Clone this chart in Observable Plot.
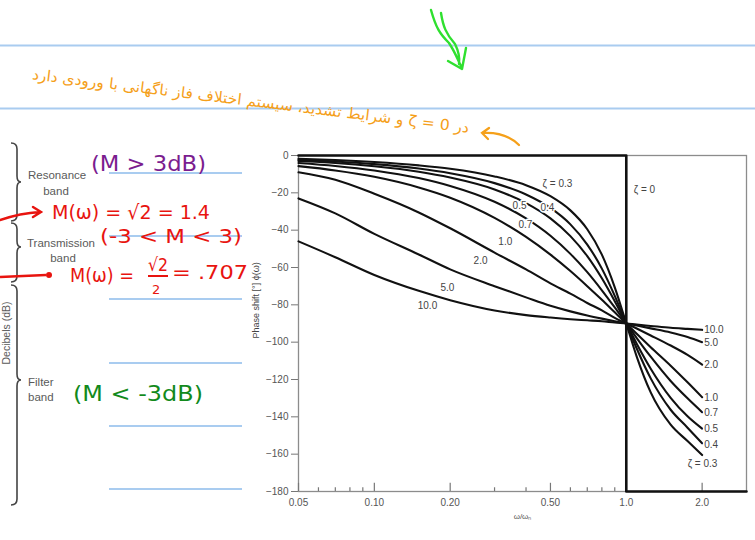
<!DOCTYPE html>
<html>
<head>
<meta charset="utf-8">
<script src="https://cdn.jsdelivr.net/npm/d3@7"></script>
<script src="https://cdn.jsdelivr.net/npm/@observablehq/plot@0.6"></script>
<style>
html,body{margin:0;padding:0;background:#fff;}
#wrap{position:relative;width:755px;height:540px;overflow:hidden;background:#fff;}
#chart{position:absolute;left:0;top:0;}
#deco{position:absolute;left:0;top:0;pointer-events:none;}
</style>
</head>
<body>
<div id="wrap"><div id="chart"></div><svg id="deco" width="755" height="540"></svg></div>
<script>
// ---- data ----
const ratios = [0.05, 0.07, 0.1, 0.15, 0.2, 0.3, 0.4, 0.5, 0.6, 0.7, 0.8, 0.9, 1.0, 1.1, 1.25, 1.5, 1.75, 2.0];
const zetas = ["0.3", "0.4", "0.5", "0.7", "1.0", "2.0", "5.0", "10.0"];
const phaseZeta03 = [-1.7,-2.4,-3.5,-5.3,-7.1,-11.2,-15.9,-21.8,-29.4,-39.5,-53.1,-70.6,-90,-107.7,-126.9,-144.2,-153,-160.5];
const phaseZeta04 = [-2.3,-3.2,-4.6,-7.0,-9.5,-14.8,-20.9,-28.1,-36.9,-47.7,-60.6,-75.2,-90,-103.4,-119.4,-136.2,-145.8,-154.2];
const phaseZeta05 = [-2.9,-4.0,-5.8,-8.7,-11.8,-18.2,-25.5,-33.7,-43.2,-53.9,-65.8,-78.1,-90,-100.8,-114.2,-129.8,-139.7,-146.3];
const phaseZeta07 = [-4.0,-5.6,-8.0,-12.1,-16.3,-24.8,-33.7,-43.0,-52.7,-62.5,-72.2,-81.4,-90,-97.8,-107.8,-120.8,-130.1,-137.5];
const phaseZeta10 = [-5.7,-8.0,-11.4,-17.1,-22.6,-33.4,-43.6,-53.1,-61.9,-70.0,-77.3,-84.0,-90,-95.5,-102.7,-112.6,-121.5,-129.5];
const phaseZeta20 = [-9,-13,-20.5,-30.5,-39,-52,-61,-68.5,-74,-79,-83,-87,-90,-92.7,-96.4,-101.8,-106.8,-112];
const phaseZeta50 = [-23,-31,-42,-53,-61,-70,-76,-80.5,-83.5,-85.7,-87.4,-88.8,-90,-91.1,-92.6,-94.8,-97.2,-100];
const phaseZeta100 = [-46,-54.5,-64,-72.5,-77.5,-83,-85.5,-86.8,-87.7,-88.3,-88.8,-89.5,-90,-90.6,-91.3,-92.3,-92.9,-93.4];
const undampedRatio = [0.05, 1.0, 1.0, 3.0];
const undampedPhase = [0, 0, -180, -180];

const xMajor = [0.05, 0.1, 0.2, 0.5, 1.0, 2.0];
const xTickLabels = ["0.05", "0.10", "0.20", "0.50", "1.0", "2.0"];
const xMinor = [0.06, 0.07, 0.08, 0.09, 0.3, 0.4, 0.6, 0.7, 0.8, 0.9];
const yTicks = [0, -20, -40, -60, -80, -100, -120, -140, -160, -180];
const yTickLabels = ["0", "−20", "−40", "−60", "−80", "−100", "−120", "−140", "−160", "−180"];

// curve labels (anchor in data units: ratio, phase)
const innerLabelText = ["ζ = 0.3", "0.5", "0.4", "0.7", "1.0", "2.0", "5.0", "10.0", "ζ = 0"];
const innerLabelR = [0.533, 0.377, 0.486, 0.398, 0.331, 0.264, 0.195, 0.1625, 1.18];
const innerLabelPhi = [-15, -26.8, -27.9, -37, -46, -56.3, -70.7, -80.4, -18.2];
const endLabelText = ["10.0", "5.0", "2.0", "1.0", "0.7", "0.5", "0.4"];
const endLabelPhi = [-93.2, -100.2, -112, -129.6, -137.7, -146.3, -154.8];
const endLabelR = 2.0;
const lastLabelText = "ζ = 0.3";
const lastLabelR = 1.72;
const lastLabelPhi = -165;

// ---- build tables ----
const series = [phaseZeta03, phaseZeta04, phaseZeta05, phaseZeta07, phaseZeta10, phaseZeta20, phaseZeta50, phaseZeta100];
const rows = [];
series.forEach((vals, i) => vals.forEach((p, j) => rows.push({zeta: zetas[i], r: ratios[j], phi: p})));
const undamped = undampedRatio.map((r, i) => ({r, phi: undampedPhase[i]}));
const innerLabels = innerLabelText.map((t, i) => ({t, r: innerLabelR[i], phi: innerLabelPhi[i]}));
const endLabels = endLabelText.map((t, i) => ({t, r: endLabelR, phi: endLabelPhi[i]}));
endLabels.push({t: lastLabelText, r: lastLabelR, phi: lastLabelPhi});

const chart = Plot.plot({
  width: 755,
  height: 540,
  marginLeft: 298,
  marginRight: 9,
  marginTop: 155,
  marginBottom: 49,
  style: {background: "transparent", fontFamily: "'Liberation Sans', Arial, sans-serif", fontSize: "10px", color: "#555"},
  x: {type: "log", domain: [0.05, 3]},
  y: {domain: [-180, 0]},
  marks: [
    Plot.frame({stroke: "#8c8c8c", strokeWidth: 1.3}),
    Plot.axisY({ticks: yTicks, tickSize: 7, tickPadding: 3, label: null, stroke: "#777",
      tickFormat: d => yTickLabels[yTicks.indexOf(d)]}),
    Plot.axisX({ticks: xMajor, tickSize: 0, tickPadding: 7, label: null,
      tickFormat: d => xTickLabels[xMajor.indexOf(d)]}),
    Plot.ruleX(xMajor, {y1: -180, y2: -175.6, stroke: "#777", strokeWidth: 1.2}),
    Plot.ruleX(xMinor, {y1: -180, y2: -178, stroke: "#777", strokeWidth: 1.2}),
    Plot.line(rows, {x: "r", y: "phi", z: "zeta", stroke: "#111", strokeWidth: 2.1, curve: "monotone-x"}),
    Plot.line(undamped, {x: "r", y: "phi", stroke: "#111", strokeWidth: 2.6}),
    Plot.text(innerLabels, {x: "r", y: "phi", text: "t", fill: "#444", stroke: "white", strokeWidth: 3, fontSize: 10}),
    Plot.text(endLabels, {x: "r", y: "phi", text: "t", fill: "#444", stroke: "white", strokeWidth: 3, fontSize: 10, textAnchor: "start", dx: 2}),
    Plot.text(["ω/ωₙ"], {frameAnchor: "bottom", dy: 27, fill: "#555", fontSize: 8}),
    Plot.text(["Phase shift [°] ϕ(ω)"], {frameAnchor: "left", rotate: -90, dx: -42, dy: 15, fill: "#444", fontSize: 9})
  ]
});
document.getElementById("chart").appendChild(chart);

// ---- notebook page decorations ----
const deco = d3.select("#deco");
const blue = "#a9ccf0";
[45.5, 108.5].forEach(y => deco.append("line").attr("x1", 0).attr("x2", 755).attr("y1", y).attr("y2", y).attr("stroke", blue).attr("stroke-width", 1.8));
[173, 236, 299, 363, 426, 489].forEach(y => deco.append("line").attr("x1", 109).attr("x2", 242).attr("y1", y).attr("y2", y).attr("stroke", blue).attr("stroke-width", 1.8));

function brace(top, mid, bot) {
  const x0 = 11, x1 = 17, xt = 21;
  return `M${x0},${top} Q${x1},${top} ${x1},${top + 6} L${x1},${mid - 6} Q${x1},${mid} ${xt},${mid} Q${x1},${mid} ${x1},${mid + 6} L${x1},${bot - 6} Q${x1},${bot} ${x0},${bot}`;
}
[[143, 182, 221], [223, 247, 282], [285, 380, 505]].forEach(([a, b, c]) =>
  deco.append("path").attr("d", brace(a, b, c)).attr("fill", "none").attr("stroke", "#444").attr("stroke-width", 1.6));

const gray = "#5a5a5a";
const lt = (x, y, s, anchor = "start") => deco.append("text").attr("x", x).attr("y", y).attr("text-anchor", anchor)
  .attr("font-family", "'Liberation Sans', Arial, sans-serif").attr("font-size", 11.5).attr("fill", gray).text(s);
lt(28, 179, "Resonance"); lt(56, 195, "band", "middle");
lt(27, 247, "Transmission"); lt(63, 262, "band", "middle");
lt(28, 386, "Filter"); lt(28, 401, "band");
deco.append("text").attr("transform", "translate(10,333) rotate(-90)").attr("text-anchor", "middle")
  .attr("font-family", "'Liberation Sans', Arial, sans-serif").attr("font-size", 10.5).attr("fill", gray).text("Decibels (dB)");

const hw = (x, y, s, color, size, len) => {
  const t = deco.append("text").attr("x", x).attr("y", y).attr("font-family", "'DejaVu Sans', sans-serif")
    .attr("font-size", size).attr("fill", color).text(s);
  if (len) t.attr("textLength", len).attr("lengthAdjust", "spacingAndGlyphs");
  return t;
};
const purple = "#7b1d8f", red = "#e8140f", dgreen = "#128a1c";
hw(91, 171, "(M > 3dB)", purple, 22, 115);
hw(52, 219, "M(ω) = √2 = 1.4", red, 20, 158);
hw(100, 243, "(-3 < M < 3)", red, 20, 142);
hw(70, 282, "M(ω) =", red, 20, 64);
hw(148, 271, "√2", red, 18, 20);
deco.append("line").attr("x1", 148).attr("x2", 168).attr("y1", 276).attr("y2", 276).attr("stroke", red).attr("stroke-width", 2);
hw(152, 294, "2", red, 13);
hw(172, 279, "= .707", red, 20, 76);
hw(73, 401, "(M < -3dB)", dgreen, 22, 130);

// red arrows
deco.append("path").attr("d", "M0,220 C12,216 24,213 40,212 M33,207 L41,212 L33,217").attr("fill", "none").attr("stroke", red).attr("stroke-width", 2.4).attr("stroke-linecap", "round");
deco.append("path").attr("d", "M0,277 L46,275").attr("fill", "none").attr("stroke", red).attr("stroke-width", 2.4);
deco.append("circle").attr("cx", 49).attr("cy", 275).attr("r", 3).attr("fill", red);

// green arrow
const bg = "#2fe02f";
deco.append("path").attr("d", "M431,10 C436,28 440,34 449,43 C455,52 457,58 461,66 M441,13 C443,26 446,34 455,44 C459,52 460,57 459,64 M448,61 L462,69 L466,48")
  .attr("fill", "none").attr("stroke", bg).attr("stroke-width", 2.4).attr("stroke-linecap", "round").attr("stroke-linejoin", "round");

// orange handwriting (Persian) and arrow
const orange = "#f5a01a";
deco.append("text").attr("transform", "translate(250,106) rotate(7)").attr("text-anchor", "middle")
  .attr("direction", "rtl").attr("font-family", "'DejaVu Sans', sans-serif").attr("font-size", 15).attr("fill", orange)
  .attr("textLength", 440).attr("lengthAdjust", "spacingAndGlyphs")
  .text("در ζ = 0 و شرایط تشدید، سیستم اختلاف فاز ناگهانی با ورودی دارد");
deco.append("path").attr("d", "M519,145 C510,136 497,132 482,133 M489,128 L482,133 L488,139").attr("fill", "none").attr("stroke", orange).attr("stroke-width", 2.2).attr("stroke-linecap", "round");
</script>
</body>
</html>
